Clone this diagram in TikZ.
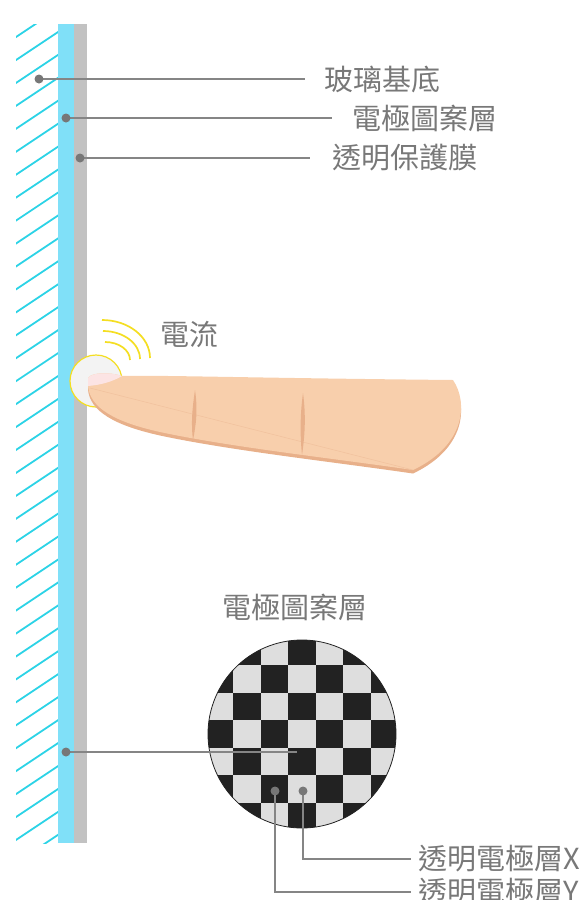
\documentclass[tikz,border=0pt]{standalone}
\usepackage{fontspec}
\newfontfamily\cjk{Noto Sans CJK TC}

\definecolor{hatchcyan}{HTML}{2CD3E6}
\definecolor{stripblue}{HTML}{80E0F8}
\definecolor{filmgray}{HTML}{C2C2C2}
\definecolor{leadergray}{HTML}{858585}
\definecolor{dotgray}{HTML}{777777}
\definecolor{labelgray}{HTML}{787878}
\definecolor{skin}{HTML}{F8CFAC}
\definecolor{skinshade}{HTML}{E8B08A}
\definecolor{nailpink}{HTML}{FCE4E4}
\definecolor{sparkyellow}{HTML}{F4DE22}
\definecolor{glowfill}{HTML}{F3F3F3}
\definecolor{checkdark}{HTML}{222222}
\definecolor{checklight}{HTML}{DEDEDE}

\tikzset{
  leader/.style={draw=leadergray, line width=1.3pt},
  leaderdot/.style={fill=dotgray},
  labeltext/.style={anchor=west, inner sep=0pt, text=labelgray,
    font=\cjk\fontsize{29}{29}\selectfont},
  spark/.style={draw=sparkyellow, line width=1.7pt},
}

% outline of the finger, reused for the shaded underside
\newcommand{\fingerpath}{(88,386) -- (88,378) .. controls (92,372) and (110,372) .. (122,376)
  .. controls (160,375) and (250,378) .. (453,380)
  .. controls (468,402) and (466,445) .. (413,470)
  .. controls (330,458) and (230,447) .. (160,432)
  .. controls (115,422) and (90,408) .. (88,386) -- cycle}

\begin{document}
\begin{tikzpicture}[x=1pt,y=-1pt]
    \useasboundingbox (0,0) rectangle (584,900);

    % Glass substrate
    \begin{scope}
        \clip (16,24) rectangle (58,843);
        \foreach \k in {-2,...,36}
            \draw[hatchcyan, line width=1.8pt] (10,{64+22.94*\k}) -- ++(54,-36);
    \end{scope}

    % Electrode layer and protective film
    \fill[stripblue] (58,24) rectangle (74,843);
    \fill[filmgray] (74,24) rectangle (87,843);

    % Layer labels
    \coordinate (glassdot) at (39,79);
    \coordinate (electrodedot) at (66,118);
    \coordinate (filmdot) at (80,158);
    \node[labeltext] (glasstext) at (324,79) {玻璃基底};
    \node[labeltext] (electrodetext) at (352,118) {電極圖案層};
    \node[labeltext] (filmtext) at (332,158) {透明保護膜};
    \draw[leader] (glassdot) -- ([xshift=-19pt]glasstext.west);
    \draw[leader] (electrodedot) -- ([xshift=-20pt]electrodetext.west);
    \draw[leader] (filmdot) -- ([xshift=-22pt]filmtext.west);
    \foreach \p in {glassdot,electrodedot,filmdot}
        \fill[leaderdot] (\p) circle[radius=4.5pt];

    % Touch point and current
    \fill[glowfill] (96,381) circle[radius=26pt];
    \draw[sparkyellow, line width=1.2pt] (96,381) circle[radius=26pt];
    \draw[spark] (102,320) .. controls (128.5,320) and (150,337) .. (150,358);
    \draw[spark] (103,331) .. controls (123.4,331) and (140,343.5) .. (140,359);
    \draw[spark] (105,342) .. controls (118.8,342) and (130,350) .. (130,360);
    \node[labeltext] (currenttext) at (160,334) {電流};

    % Finger
    \fill[skinshade, shift={(0,3.5)}] \fingerpath;
    \fill[skin] \fingerpath;
    \draw[skinshade!45!skin, line width=0.5pt] (90,388) -- (413,470);
    \fill[skinshade] (195,390) .. controls (198,410) and (196,425) .. (193,440)
        .. controls (191,425) and (192,410) .. (195,390);
    \fill[skinshade] (303,393) .. controls (306,415) and (305,435) .. (302,455)
        .. controls (300,435) and (300,415) .. (303,393);
    \fill[nailpink] (88,386) -- (88,378) .. controls (92,372) and (110,372) .. (122,376)
        .. controls (112,382) and (100,385) .. (88,386) -- cycle;

    % Electrode pattern
    \node[labeltext, anchor=center] (patterntitle) at (295,607) {電極圖案層};
    \begin{scope}
        \clip (302,734) circle[radius=94pt];
        \fill[checklight] (200,630) rectangle (404,840);
        \foreach \r in {0,...,6}
            \foreach \c in {0,...,6} {
                \pgfmathtruncatemacro\odd{mod(\r+\c,2)}
                \ifnum\odd=1
                    \fill[checkdark] ({205.8+27.5*\c},{637.5+27.5*\r}) rectangle ++(27.5,27.5);
                \fi
            }
    \end{scope}
    \draw[checkdark, line width=0.8pt] (302,734) circle[radius=94pt];

    % Pattern labels
    \coordinate (patterndot) at (66,752);
    \coordinate (patternend) at (297,752);
    \coordinate (ydot) at (275,791);
    \coordinate (xdot) at (303,791);
    \node[labeltext] (xtext) at (418,859) {透明電極層X};
    \node[labeltext] (ytext) at (418,892) {透明電極層Y};
    \draw[leader] (patterndot) -- (patternend);
    \draw[leader] (xdot) |- ([xshift=-7pt]xtext.west);
    \draw[leader] (ydot) |- ([xshift=-7pt]ytext.west);
    \foreach \p in {patterndot,xdot,ydot}
        \fill[leaderdot] (\p) circle[radius=4.5pt];
\end{tikzpicture}
\end{document}
